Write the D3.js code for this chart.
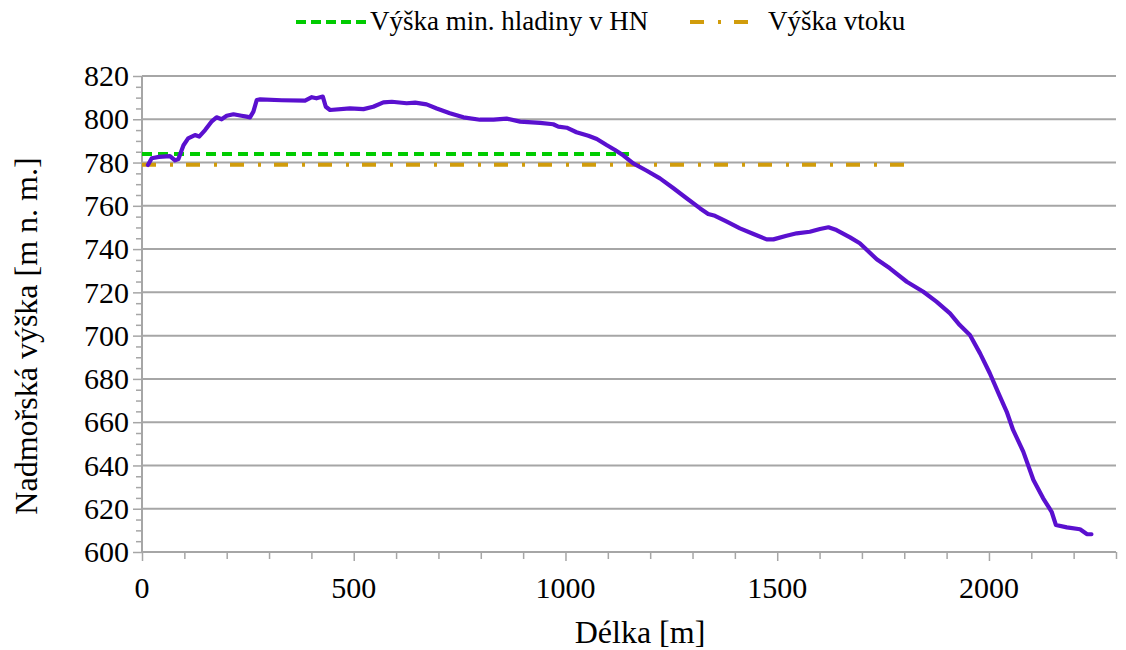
<!DOCTYPE html>
<html><head><meta charset="utf-8">
<script src="https://cdn.jsdelivr.net/npm/d3@7"></script>
<style>body{margin:0;background:#fff}svg{display:block}</style>
</head><body>
<svg id="c" width="1126" height="650"></svg>
<script>
const distance = [14,23,40,66,78,86,98,109,125,135,149,164,176,188,200,216,235,247,255,263,271,279,330,385,401,412,427,434,444,491,523,546,570,590,625,645,672,696,727,759,798,830,861,893,940,971,983,1003,1026,1054,1074,1097,1117,1137,1160,1192,1223,1255,1286,1318,1337,1353,1381,1412,1444,1475,1491,1522,1546,1577,1601,1621,1640,1672,1695,1735,1766,1806,1845,1876,1908,1931,1955,1979,2002,2026,2042,2057,2081,2105,2128,2148,2158,2184,2215,2231,2242];
const elevation = [778.9,782,782.6,783,781,781.6,788,791.2,792.7,792,795,798.9,800.9,800,801.6,802.3,801.6,801.2,800.9,803.5,808.9,809.2,808.8,808.6,810.2,809.7,810.5,805.8,804.3,805,804.7,805.8,807.8,808.1,807.4,807.7,806.9,805,802.8,800.9,799.8,799.8,800.3,798.9,798.3,797.7,796.6,796.1,794,792.4,790.9,788.1,785.8,783.2,779.6,776.2,772.7,768.1,763.5,758.8,756.2,755.4,752.7,749.6,747,744.5,744.5,746.2,747.3,748,749.3,750.1,748.8,745.4,742.7,735.3,731.1,724.9,720.3,715.7,710.3,704.9,700.3,691.8,682.6,671.8,664.8,656.4,646.4,633.3,624.8,618.6,612.5,611.4,610.5,608.3,608.2];
const minLevelX = [0,1150];
const minLevel = [784,784];
const intakeX = [0,1800];
const intake = [779,779];
const seriesNames = ["Výška min. hladiny v HN","Výška vtoku"];
const xTicks = [0,500,1000,1500,2000];
const yTicks = [600,620,640,660,680,700,720,740,760,780,800,820];

const FONT = "'Liberation Serif'";
const svg = d3.select("#c");
const L=142,R=1116,T=76,B=552;
const x = d3.scaleLinear().domain([0,2300]).range([L,R]);
const y = d3.scaleLinear().domain([600,820]).range([B,T]);
const gray="#a6a6a6";

svg.append("g").selectAll("line").data(yTicks.slice(1)).join("line")
  .attr("x1",L).attr("x2",R).attr("y1",d=>y(d)).attr("y2",d=>y(d))
  .attr("stroke",gray).attr("stroke-width",2);

const yAx = svg.append("g").attr("transform",`translate(${L},0)`)
  .call(d3.axisLeft(y).tickValues(d3.range(600,821,5)).tickSize(0).tickFormat(""));
yAx.select(".domain").remove();
yAx.selectAll(".tick line").attr("x2",d=>d%20===0?-9:-6).attr("stroke",gray).attr("stroke-width",1.5);
svg.append("line").attr("x1",L).attr("x2",L).attr("y1",T).attr("y2",B).attr("stroke",gray).attr("stroke-width",2);
svg.append("g").selectAll("text").data(yTicks).join("text")
  .attr("x",L-13).attr("y",d=>y(d)).attr("dy","0.34em").attr("text-anchor","end")
  .style("font-family",FONT).style("font-size","30px").text(d=>String(d));

const xAx = svg.append("g").attr("transform",`translate(0,${B})`)
  .call(d3.axisBottom(x).tickValues(d3.range(0,2301,100)).tickSize(0).tickFormat(""));
xAx.select(".domain").remove();
xAx.selectAll(".tick line").attr("y2",d=>d%500===0?9:7).attr("stroke",gray).attr("stroke-width",1.5);
svg.append("line").attr("x1",L).attr("x2",R).attr("y1",B).attr("y2",B).attr("stroke",gray).attr("stroke-width",2);
svg.append("g").selectAll("text").data(xTicks).join("text")
  .attr("x",d=>x(d)).attr("y",598).attr("text-anchor","middle")
  .style("font-family",FONT).style("font-size","30px").text(d=>String(d));

svg.append("text").attr("x",640).attr("y",643).attr("text-anchor","middle")
  .style("font-family",FONT).style("font-size","32px").text("Délka [m]");
svg.append("text").attr("transform",`translate(37,336) rotate(-90)`).attr("text-anchor","middle")
  .style("font-family",FONT).style("font-size","32px").text("Nadmořská výška [m n. m.]");

const line = d3.line().x(d=>x(d[0])).y(d=>y(d[1]));
svg.append("path").datum(minLevelX.map((d,i)=>[d,minLevel[i]])).attr("d",line)
  .attr("fill","none").attr("stroke","#00cc00").attr("stroke-width",4).attr("stroke-dasharray","10,6");
svg.append("path").datum(intakeX.map((d,i)=>[d,intake[i]])).attr("d",line)
  .attr("fill","none").attr("stroke","#d19c0b").attr("stroke-width",4).attr("stroke-dasharray","14,14,3,13");
svg.append("path").datum(distance.map((d,i)=>[d,elevation[i]])).attr("d",line)
  .attr("fill","none").attr("stroke","#5a10cf").attr("stroke-width",4.2).attr("stroke-linejoin","round").attr("stroke-linecap","round");

const lg = svg.append("g");
lg.append("line").attr("x1",296).attr("x2",366).attr("y1",22).attr("y2",22)
  .attr("stroke","#00cc00").attr("stroke-width",4).attr("stroke-dasharray","10,5");
lg.append("text").attr("x",370).attr("y",30).style("font-family",FONT).style("font-size","27px").text(seriesNames[0]);
lg.append("line").attr("x1",690).attr("x2",752).attr("y1",22).attr("y2",22)
  .attr("stroke","#d19c0b").attr("stroke-width",4).attr("stroke-dasharray","14,14,3,13");
lg.append("text").attr("x",768).attr("y",30).style("font-family",FONT).style("font-size","27px").text(seriesNames[1]);
</script></body></html>
